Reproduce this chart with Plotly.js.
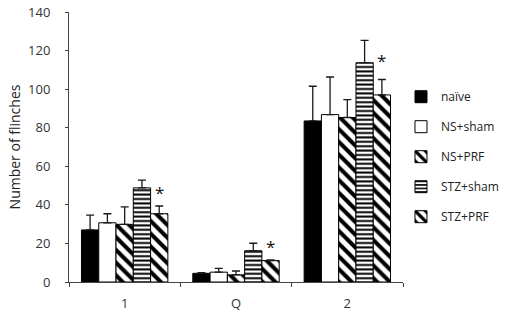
<!DOCTYPE html>
<html>
<head>
<meta charset="utf-8">
<script src="https://cdn.plot.ly/plotly-3.0.1.min.js"></script>
<style>html,body{margin:0;padding:0;background:#fff;}#chart{width:516px;height:312px;}</style>
</head>
<body>
<div id="chart"></div>
<script>
const categories = ['1', 'Q', '2'];
const seriesNames = ['naïve', 'NS+sham', 'NS+PRF', 'STZ+sham', 'STZ+PRF'];
const naive = [27, 4.5, 83.5];
const naiveErr = [7.7, 0.4, 18];
const nsSham = [30.7, 5.1, 86.8];
const nsShamErr = [4.7, 2, 19.5];
const nsPrf = [29.9, 3.7, 85.3];
const nsPrfErr = [9.1, 2, 9.3];
const stzSham = [48.8, 16.2, 113.7];
const stzShamErr = [4, 3.9, 11.6];
const stzPrf = [35.4, 11.1, 97];
const stzPrfErr = [4, 0.4, 8];
const sigMarkY = [46.6, 18.3, 115];
const yTicks = [0, 20, 40, 60, 80, 100, 120, 140];

const values = [naive, nsSham, nsPrf, stzSham, stzPrf];
const errs = [naiveErr, nsShamErr, nsPrfErr, stzShamErr, stzPrfErr];
const patterns = [
  {shape: '', fillmode: 'replace'},
  {shape: '', fillmode: 'replace'},
  {shape: '\\', bgcolor: '#ffffff', fgcolor: '#000000', size: 9, solidity: 0.45, fillmode: 'replace'},
  {shape: '-', bgcolor: '#ffffff', fgcolor: '#000000', size: 4.4, solidity: 0.45, fillmode: 'replace'},
  {shape: '\\', bgcolor: '#ffffff', fgcolor: '#000000', size: 9, solidity: 0.45, fillmode: 'replace'}
];
const fills = ['#000000', '#ffffff', '#ffffff', '#ffffff', '#ffffff'];
const bargap = 0.224;

const traces = values.map((v, i) => ({
  type: 'bar',
  name: seriesNames[i],
  x: categories,
  y: v,
  legendgroup: 'g' + i,
  marker: {color: fills[i], line: {color: '#000000', width: 1}, pattern: patterns[i]},
  error_y: {type: 'data', symmetric: false, array: errs[i], arrayminus: errs[i].map(() => 0),
            color: '#1a1a1a', thickness: 1.3, width: 4}
}));

const barW = (1 - bargap) / values.length;
const annotations = categories.map((c, i) => ({
  x: i + 2 * barW, y: sigMarkY[i], xref: 'x', yref: 'y', text: '*', showarrow: false,
  font: {family: 'Open Sans', size: 17, color: '#111'}, yanchor: 'middle', xanchor: 'center'
}));

const layout = {
  width: 516, height: 312,
  margin: {l: 69, r: 102, t: 12, b: 30},
  paper_bgcolor: '#ffffff', plot_bgcolor: '#ffffff',
  barmode: 'group', bargap: bargap, bargroupgap: 0,
  font: {family: 'Open Sans', size: 12, color: '#333'},
  showlegend: true,
  legend: {x: 0.994, xanchor: 'left', y: 0.74, yanchor: 'top', tracegroupgap: 11,
           font: {family: 'Open Sans', size: 12, color: '#222'}, bgcolor: 'rgba(0,0,0,0)'},
  xaxis: {type: 'category', showline: true, linecolor: '#444', linewidth: 1,
          ticks: 'outside', tickson: 'boundaries', ticklen: 4, tickcolor: '#444',
          ticklabelstandoff: 9,
          showgrid: false, zeroline: false, tickfont: {size: 13, color: '#333'}},
  yaxis: {range: [0, 140], tickvals: yTicks, showline: true, linecolor: '#444', linewidth: 1,
          ticks: 'outside', ticklen: 3, tickcolor: '#444', showgrid: false, zeroline: false,
          ticklabelstandoff: 12,
          tickfont: {size: 13, color: '#333'},
          title: {text: 'Number of flinches', font: {family: 'Open Sans', size: 14, color: '#222'}, standoff: 4}},
  annotations: annotations
};

Plotly.newPlot('chart', traces, layout, {displayModeBar: false, staticPlot: true});
</script>
</body>
</html>
